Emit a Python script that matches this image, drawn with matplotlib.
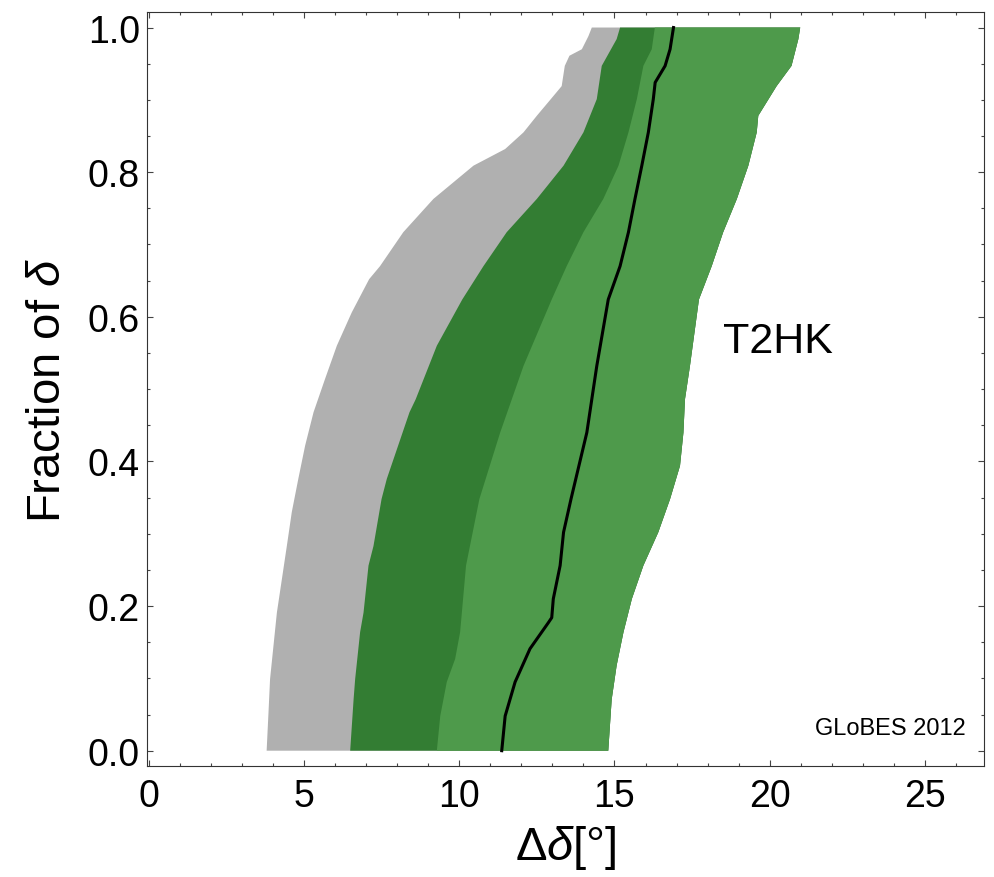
import numpy as np
import matplotlib
matplotlib.use("Agg")
import matplotlib.pyplot as plt
from matplotlib.ticker import MultipleLocator, FormatStrFormatter

plt.rcParams['font.family'] = ['Liberation Sans', 'DejaVu Sans']
plt.rcParams['mathtext.fontset'] = 'custom'
plt.rcParams['mathtext.rm'] = 'Liberation Sans'
plt.rcParams['mathtext.it'] = 'Liberation Sans:italic'

# boundaries of the bands (x = Delta delta [deg], y = fraction of delta)
gray_left_x = [3.80, 3.86, 3.91, 4.02, 4.13, 4.29, 4.45, 4.61, 4.82, 5.04, 5.31, 5.68, 6.06,
               6.54, 7.10, 7.45, 8.20, 9.17, 10.46, 11.48, 12.07, 12.50, 12.95, 13.30, 13.40,
               13.55, 13.95, 14.16, 14.27]
gray_left_y = [0.0, 0.053, 0.099, 0.145, 0.191, 0.237, 0.283, 0.33, 0.376, 0.422, 0.468, 0.514, 0.56,
               0.606, 0.652, 0.670, 0.717, 0.763, 0.809, 0.832, 0.855, 0.878, 0.901, 0.919, 0.947,
               0.961, 0.970, 0.988, 1.0]

dark_left_x = [6.49, 6.60, 6.65, 6.81, 6.92, 7.08, 7.24, 7.50, 7.67, 8.40, 8.60, 9.28, 10.10,
               10.78, 11.53, 12.50, 13.36, 14.00, 14.43, 14.59, 15.07, 15.18]
dark_left_y = [0.0, 0.071, 0.099, 0.164, 0.191, 0.256, 0.283, 0.348, 0.376, 0.468, 0.486, 0.56, 0.624,
               0.670, 0.717, 0.763, 0.809, 0.855, 0.901, 0.947, 0.984, 1.0]

light_left_x = [9.28, 9.39, 9.60, 9.87, 10.03, 10.22, 10.65, 11.32, 12.07, 12.98, 13.46, 14.00,
                14.64, 15.13, 15.45, 15.72, 15.93, 16.20, 16.30]
light_left_y = [0.0, 0.048, 0.095, 0.127, 0.164, 0.256, 0.348, 0.44, 0.532, 0.624, 0.670, 0.717,
                0.763, 0.809, 0.855, 0.901, 0.947, 0.970, 1.0]

right_x = [14.80, 14.91, 15.07, 15.29, 15.56, 15.93, 16.41, 16.79, 17.11, 17.22, 17.27, 17.43,
           17.72, 18.13, 18.50, 18.94, 19.31, 19.58, 19.63, 20.22, 20.70, 20.92, 20.98]
right_y = [0.0, 0.071, 0.118, 0.164, 0.21, 0.256, 0.302, 0.348, 0.394, 0.44, 0.486, 0.532,
           0.624, 0.670, 0.717, 0.763, 0.809, 0.855, 0.878, 0.919, 0.947, 0.984, 1.0]

best_x = [11.37, 11.48, 11.80, 12.28, 12.87, 12.98, 13.03, 13.25, 13.36, 13.60, 14.11, 14.43,
          14.80, 15.18, 15.45, 15.66, 15.88, 16.09, 16.25, 16.31, 16.63, 16.79, 16.90]
best_y = [0.0, 0.048, 0.095, 0.141, 0.177, 0.184, 0.21, 0.256, 0.302, 0.348, 0.44, 0.532,
          0.624, 0.670, 0.717, 0.763, 0.809, 0.855, 0.901, 0.924, 0.947, 0.970, 1.0]

col_gray = '#b0b0b0'
col_dark = '#337d33'
col_light = '#4e9a4b'


def band(ax, lx, ly, color):
    # polygon from a left boundary to the common right edge, layered so no seams show
    xs = np.concatenate([lx, right_x[::-1]])
    ys = np.concatenate([ly, right_y[::-1]])
    ax.fill(xs, ys, color=color, lw=0, zorder=1)


fig = plt.figure(figsize=(9.95, 8.78), dpi=100)
ax = fig.add_axes([0.1475, 0.1268, 0.8415, 0.858])

band(ax, gray_left_x, gray_left_y, col_gray)
band(ax, dark_left_x, dark_left_y, col_dark)
band(ax, light_left_x, light_left_y, col_light)
ax.plot(best_x, best_y, color='black', lw=2.2, zorder=3)

ax.text(18.5, 0.566, 'T2HK', fontsize=31, va='center', ha='left')
ax.text(26.3, 0.031, 'GLoBES 2012', fontsize=17, va='center', ha='right')

ax.set_xlim(-0.06, 26.9)
ax.set_ylim(-0.0207, 1.021)

ax.xaxis.set_major_locator(MultipleLocator(5))
ax.xaxis.set_minor_locator(MultipleLocator(1))
ax.yaxis.set_major_locator(MultipleLocator(0.2))
ax.yaxis.set_minor_locator(MultipleLocator(0.05))
ax.yaxis.set_major_formatter(FormatStrFormatter('%.1f'))

ax.tick_params(which='both', direction='in', top=True, right=True, color='#444444', width=0.8)
ax.tick_params(which='major', length=4)
ax.tick_params(which='minor', length=2.2)
ax.tick_params(axis='x', labelsize=27, pad=9)
ax.tick_params(axis='y', labelsize=27, pad=5)
for s in ax.spines.values():
    s.set_linewidth(0.8)
    s.set_color('#333333')

ax.set_xlabel(r'$\Delta\mathit{\delta}$[°]', fontsize=34, labelpad=6)
ax.set_ylabel(r'Fraction of $\mathit{\delta}$', fontsize=34, labelpad=13)

fig.savefig('out.png', dpi=100)
